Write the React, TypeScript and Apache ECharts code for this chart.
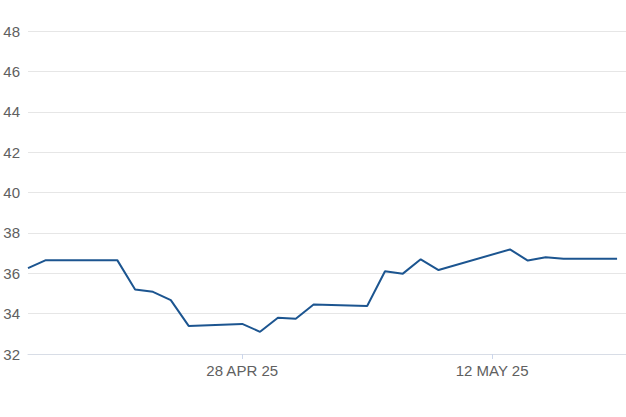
import React, { useEffect, useRef } from "react";
import * as echarts from "echarts";

const dates = [
  "2025-04-16", "2025-04-17", "2025-04-21", "2025-04-22", "2025-04-23", "2025-04-24", "2025-04-25",
  "2025-04-28", "2025-04-29", "2025-04-30", "2025-05-01", "2025-05-02",
  "2025-05-05", "2025-05-06", "2025-05-07", "2025-05-08", "2025-05-09",
  "2025-05-13", "2025-05-14", "2025-05-15", "2025-05-16", "2025-05-19",
];
const values = [
  36.25, 36.65, 36.65, 35.2, 35.08, 34.67, 33.39,
  33.49, 33.1, 33.8, 33.75, 34.45,
  34.38, 36.1, 35.98, 36.69, 36.16,
  37.18, 36.63, 36.79, 36.72, 36.72,
];
const xTickDates = ["2025-04-28", "2025-05-12"];
const yMin = 32;
const yMax = 48;
const yStep = 2;

const MONTHS = ["JAN", "FEB", "MAR", "APR", "MAY", "JUN", "JUL", "AUG", "SEP", "OCT", "NOV", "DEC"];
const ts = (s: string) => {
  const [y, m, d] = s.split("-").map(Number);
  return Date.UTC(y, m - 1, d);
};
const fmt = (v: number) => {
  const d = new Date(v);
  return `${d.getUTCDate()} ${MONTHS[d.getUTCMonth()]} ${String(d.getUTCFullYear()).slice(2)}`;
};

export default function App() {
  const ref = useRef<HTMLDivElement>(null);
  useEffect(() => {
    document.body.style.margin = "0";
    const chart = echarts.init(ref.current!, null, { renderer: "svg" });
    const DAY = 86400000;
    const xMin = ts(dates[0]);
    const xMax = xMin + 33.5 * DAY;
    const ticks = xTickDates.map(ts);
    chart.setOption({
      animation: false,
      grid: { left: 28, right: 0, top: 31, bottom: 63 },
      xAxis: {
        type: "value",
        min: xMin,
        max: xMax,
        axisLine: { show: true, lineStyle: { color: "#d8dde6", width: 1 } },
        axisTick: {
          show: true,
          customValues: ticks,
          length: 5,
          lineStyle: { color: "#ccd6eb" },
        },
        axisLabel: {
          customValues: ticks,
          formatter: (v: number) => fmt(v),
          color: "#606060",
          fontSize: 15,
          fontFamily: "Liberation Sans, Arial, sans-serif",
          margin: 9,
        },
        splitLine: { show: false },
      },
      yAxis: {
        type: "value",
        min: yMin,
        max: yMax,
        interval: yStep,
        axisLine: { show: false },
        axisTick: { show: false },
        axisLabel: {
          color: "#606060",
          fontSize: 15,
          fontFamily: "Liberation Sans, Arial, sans-serif",
          margin: 8,
        },
        splitLine: { show: true, lineStyle: { color: "#e6e6e6", width: 1 } },
      },
      series: [
        {
          type: "line",
          data: dates.map((d, i) => [ts(d), values[i]]),
          showSymbol: false,
          lineStyle: { color: "#1c5590", width: 2 },
          itemStyle: { color: "#1c5590" },
        },
      ],
    });
    return () => chart.dispose();
  }, []);
  return <div ref={ref} style={{ width: 626, height: 417 }} />;
}
